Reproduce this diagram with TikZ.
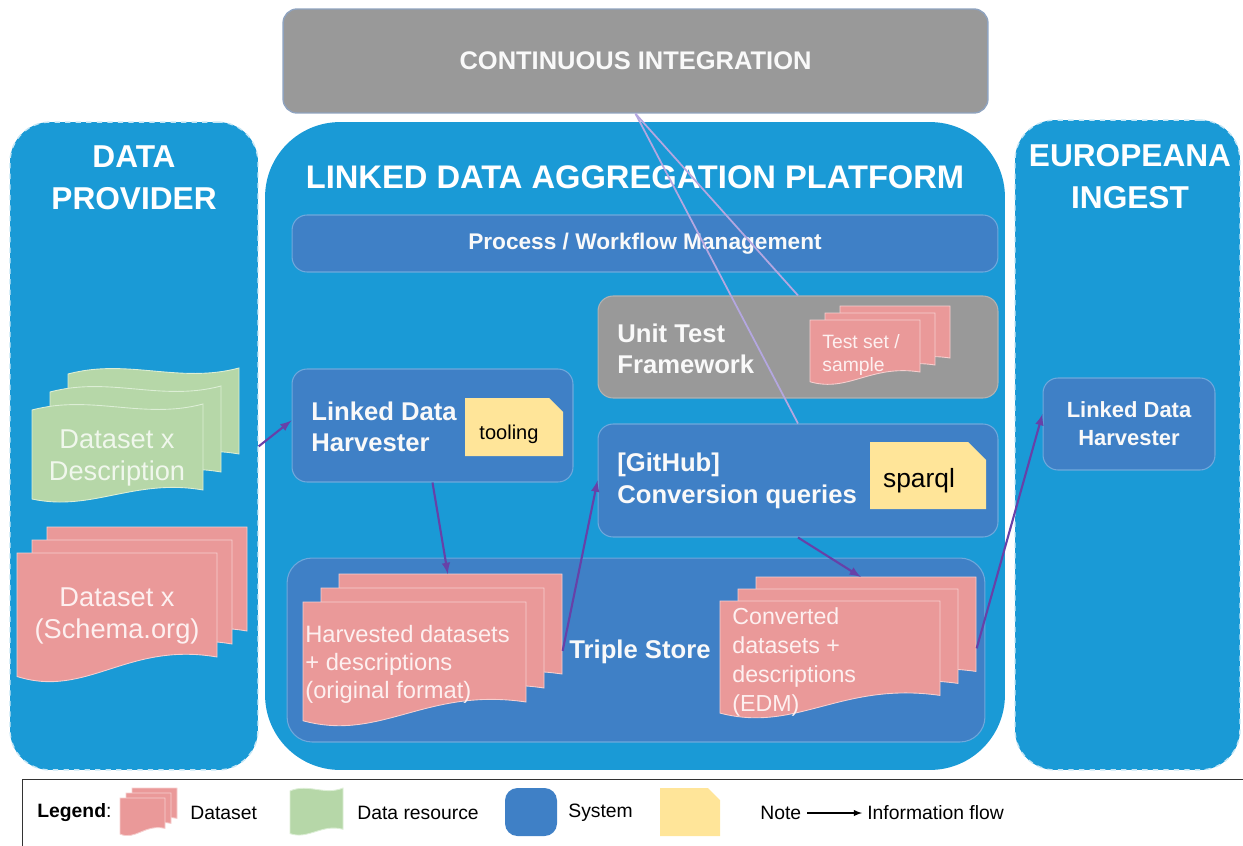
\documentclass[tikz,border=0pt]{standalone}
\usepackage{fontspec}
\setmainfont{Liberation Sans}
\usetikzlibrary{arrows}

\definecolor{outerblue}{HTML}{1A9AD6}
\definecolor{sysblue}{HTML}{3F80C6}
\definecolor{sysedge}{HTML}{6FA8DC}
\definecolor{cigray}{HTML}{999999}
\definecolor{ciedge}{HTML}{8FA3BF}
\definecolor{sheetred}{HTML}{EA9999}
\definecolor{rededge}{HTML}{F6CFCF}
\definecolor{sheetgreen}{HTML}{B6D7A8}
\definecolor{greenedge}{HTML}{DCEED5}
\definecolor{notefill}{HTML}{FFE599}
\definecolor{flowpurple}{HTML}{6741A8}
\definecolor{cilavender}{HTML}{B4A7E0}
\definecolor{sheetink}{HTML}{FDF0F0}
\definecolor{greenink}{HTML}{F0F7EC}

% one sheet with a wavy bottom: fill, edge, x, y, w, h
\newcommand{\docsheet}[6]{%
  \filldraw[fill=#1, draw=#2, line width=0.5pt, shift={(#3,#4)}, xscale=#5, yscale=#6]
    (0,0) -- (1,0) -- (1,0.8) .. controls (0.55,0.68) and (0.35,1.12) .. (0,0.95) -- cycle;}
% one sheet wavy at top and bottom
\newcommand{\tapesheet}[6]{%
  \filldraw[fill=#1, draw=#2, line width=0.5pt, shift={(#3,#4)}, xscale=#5, yscale=#6]
    (0,0.06) .. controls (0.35,-0.1) and (0.65,0.16) .. (1,0) -- (1,0.86)
    .. controls (0.6,0.74) and (0.35,1.08) .. (0,0.95) -- cycle;}
% three sheets: fill, edge, x, y, w, h, dx, dy
\newcommand{\docstack}[8]{%
  \docsheet{#1}{#2}{#3+2*#7}{#4}{#5}{#6}
  \docsheet{#1}{#2}{#3+#7}{#4+#8}{#5}{#6}
  \docsheet{#1}{#2}{#3}{#4+2*#8}{#5}{#6}}
\newcommand{\tapestack}[8]{%
  \tapesheet{#1}{#2}{#3+2*#7}{#4}{#5}{#6}
  \tapesheet{#1}{#2}{#3+#7}{#4+#8}{#5}{#6}
  \tapesheet{#1}{#2}{#3}{#4+2*#8}{#5}{#6}}
% note with folded corner: x, y, w, h, fold
\newcommand{\notesheet}[5]{%
  \fill[notefill] (#1,#2) -- ++(#3-#5,0) -- ++(#5,#5) -- ++(0,#4-#5) -- ++(-#3,0) -- cycle;}

\begin{document}
\begin{tikzpicture}[x=0.02cm, y=-0.02cm,
  flow/.style={->, >=latex, draw=flowpurple, line width=1.2pt},
  cilink/.style={draw=cilavender, line width=1pt},
  lane/.style={fill=outerblue, draw=white!75!outerblue, dashed, line width=0.8pt, rounded corners=0.8cm, inner sep=0pt},
  sysbox/.style={fill=sysblue, draw=sysedge, line width=0.6pt, rounded corners=0.3cm, inner sep=0pt},
  testbox/.style={fill=cigray, draw=gray!60!white, line width=0.6pt, rounded corners=0.3cm, inner sep=0pt},
  heading/.style={text=white, font=\bfseries\fontsize{18}{24}\selectfont, align=center},
  boxtext/.style={text=white!95!gray, font=\bfseries\fontsize{14.6}{18}\selectfont, align=left, inner sep=0pt},
  sheettext/.style={text=sheetink, align=left, inner sep=0pt},
  notetext/.style={text=black, inner sep=0pt},
  legendtext/.style={text=black, font=\fontsize{11}{13}\selectfont, anchor=west, inner sep=0pt}]

\useasboundingbox (0,0) rectangle (1243,845);

% lanes
\node[lane, minimum width=4.96cm, minimum height=12.96cm] (provider) at (134,446) {};
\node[lane, minimum width=4.5cm, minimum height=13cm] (ingest) at (1127.5,445) {};
\node[fill=outerblue, rounded corners=1.5cm, minimum width=14.8cm, minimum height=12.96cm, inner sep=0pt] (platform) at (635,446) {};
\node[fill=cigray, draw=ciedge, line width=0.8pt, rounded corners=0.28cm, minimum width=14.1cm, minimum height=2.08cm,
  text=white!95!gray, font=\bfseries\fontsize{14.5}{17}\selectfont] (ci) at (635.5,61) {CONTINUOUS INTEGRATION};

\node[heading] (providerhead) at (134,178) {DATA\\PROVIDER};
\node[heading, font=\bfseries\fontsize{18.6}{24}\selectfont] (platformhead) at (635,177) {LINKED DATA AGGREGATION PLATFORM};
\node[heading] (ingesthead) at (1130,177) {EUROPEANA\\INGEST};

% systems
\node[sysbox, minimum width=14.12cm, minimum height=1.14cm, text=white!95!gray,
  font=\bfseries\fontsize{12.9}{15}\selectfont] (workflow) at (645,243.5) {Process / Workflow Management};
\node[testbox, minimum width=8cm, minimum height=2.04cm] (unittest) at (798,347) {};
\node[boxtext, anchor=west] (unittestlabel) at (617,349) {Unit Test\\Framework};
\node[sysbox, minimum width=5.62cm, minimum height=2.26cm] (harvester) at (432.5,425.5) {};
\node[boxtext, anchor=west] (harvesterlabel) at (311,427) {Linked Data\\Harvester};
\node[sysbox, minimum width=8cm, minimum height=2.26cm] (github) at (798,480.5) {};
\node[boxtext, anchor=west] (githublabel) at (617,481) {[GitHub]\\Conversion queries};
\node[sysbox, minimum width=13.96cm, minimum height=3.68cm, rounded corners=0.5cm] (store) at (636,650) {};
\node[boxtext] (storelabel) at (640,652) {Triple Store};
\node[sysbox, minimum width=3.44cm, minimum height=1.84cm, text=white!95!gray, align=center,
  font=\bfseries\fontsize{12.5}{16}\selectfont] (ingestharvester) at (1129,424) {Linked Data\\Harvester};

% notes
\notesheet{465}{398}{98}{58}{14}
\node[notetext, font=\fontsize{11.4}{13}\selectfont] (tooling) at (509,434) {tooling};
\notesheet{870}{442}{116}{67}{18}
\node[notetext, font=\fontsize{15}{18}\selectfont] (sparql) at (919,481) {sparql};

% datasets and resources
\tapestack{sheetgreen}{greenedge}{32}{368}{171}{100}{18}{18}
\node[inner sep=0pt, minimum width=4.14cm, minimum height=2.72cm, anchor=north west] (desc) at (32,368) {};
\node[sheettext, text=greenink, align=center, font=\fontsize{15.5}{18}\selectfont] (desctext) at (117,458) {Dataset x\\Description};

\docstack{sheetred}{rededge}{17}{527}{200}{130}{15}{13}
\node[inner sep=0pt, minimum width=4.6cm, minimum height=3.12cm, anchor=north west] (schema) at (17,527) {};
\node[sheettext, align=center, font=\fontsize{15.5}{18}\selectfont] (schematext) at (117,616) {Dataset x\\(Schema.org)};

\docstack{sheetred}{rededge}{303}{574}{223}{125}{18}{14}
\node[inner sep=0pt, minimum width=5.18cm, minimum height=3.06cm, anchor=north west] (harvested) at (303,574) {};
\node[sheettext, anchor=west, font=\fontsize{13.5}{16}\selectfont] (harvestedtext) at (305,664) {Harvested datasets\\+ descriptions\\(original format)};

\docstack{sheetred}{rededge}{720}{577}{220}{118}{18}{12}
\node[inner sep=0pt, minimum width=5.12cm, minimum height=2.84cm, anchor=north west] (converted) at (720,577) {};
\node[sheettext, anchor=west, font=\fontsize{13.2}{16.4}\selectfont] (convertedtext) at (732,662) {Converted\\datasets +\\descriptions\\(EDM)};

\docstack{sheetred}{rededge}{810}{306}{110}{65}{15}{7}
\node[inner sep=0pt, minimum width=2.8cm, minimum height=1.58cm, anchor=north west] (testset) at (810,306) {};
\node[sheettext, anchor=west, font=\fontsize{11}{13.6}\selectfont] (testsettext) at (822,355) {Test set /\\sample};

% flows
\draw[cilink] (ci.south) -- (unittest.north);
\draw[cilink] (ci.south) -- (github.north);
\draw[flow] ([yshift=-0.2cm]desc.east -| provider.east) -- ([yshift=0.1cm]harvester.west);
\draw[flow] (harvester.south) -- ([xshift=0.3cm]harvested.north);
\draw[flow] (harvested.east) -- (github.west);
\draw[flow] (github.south) -- ([xshift=0.25cm]converted.north);
\draw[flow] (converted.east) -- ([yshift=0.2cm]ingestharvester.west);

% legend
\node[draw=gray!40!black, line width=0.8pt, minimum width=25cm, minimum height=1.6cm, anchor=north west, inner sep=0pt] (legend) at (22,779) {};
\node[legendtext] (legendtitle) at (37,813) {\textbf{Legend}:};
\docstack{sheetred}{rededge}{120}{788}{45}{38}{6}{5}
\node[legendtext] (legdataset) at (190,813) {Dataset};
\tapesheet{sheetgreen}{greenedge}{290}{788}{53}{48}
\node[legendtext] (legresource) at (357,813) {Data resource};
\node[fill=sysblue, rounded corners=0.25cm, minimum width=1.04cm, minimum height=0.96cm, inner sep=0pt] (legsystem) at (531,812) {};
\node[legendtext] (legsystemtext) at (568,813) {System};
\notesheet{660}{788}{60}{48}{12}
\node[legendtext] (legnote) at (760,813) {Note};
\coordinate (flowstart) at (807,813);
\coordinate (flowend) at (862,813);
\draw[->, >=latex, line width=0.6pt] (flowstart) -- (flowend);
\node[legendtext] (legflow) at (867,813) {Information flow};
\end{tikzpicture}
\end{document}
